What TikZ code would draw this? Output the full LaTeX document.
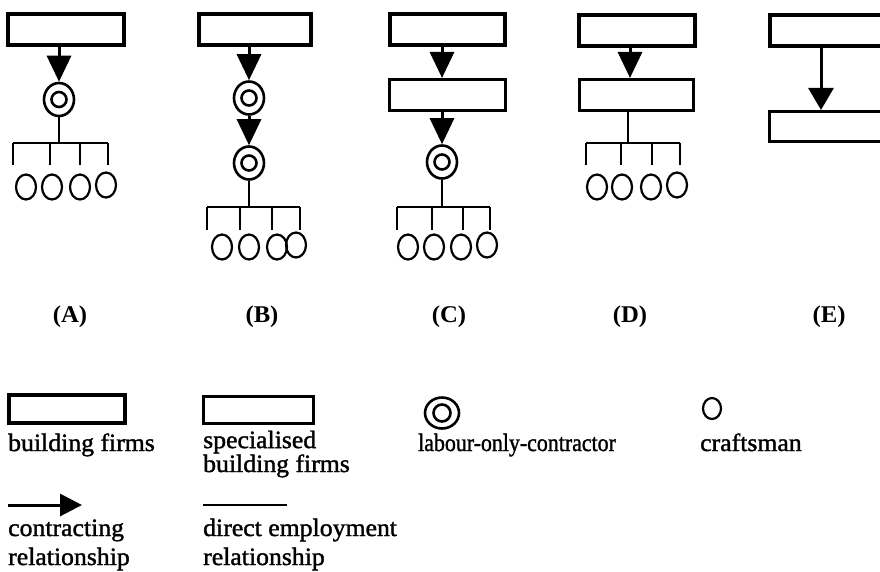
\documentclass[tikz,border=0pt]{standalone}
\usepackage{fontspec}
\setmainfont{Liberation Serif}[FakeStretch=1.03]
\newfontfamily\keyfont{Liberation Serif}[FakeStretch=1.03,FakeBold=1.4]
\usetikzlibrary{arrows.meta,shapes.geometric,calc}

\begin{document}
\begin{tikzpicture}[x=1pt,y=-1pt,
  firm/.style={draw, line width=4pt, inner sep=0pt, minimum height=31pt},
  special/.style={draw, line width=2.6pt, inner sep=0pt, minimum height=31.5pt},
  loc/.style={ellipse, draw, line width=2.6pt, inner sep=0pt,
    minimum width=30pt, minimum height=33pt,
    path picture={\draw[line width=2.6pt] (path picture bounding box.center) circle[radius=#1];}},
  loc/.default=7.5pt,
  crafts/.style={ellipse, draw, line width=2.2pt, inner sep=0pt,
    minimum width=20pt, minimum height=25pt},
  contract/.style={line width=3pt, -{Triangle[length=26pt,width=24pt]}},
  employ/.style={line width=2.2pt},
  caption/.style={font=\fontsize{24}{24}\selectfont\bfseries, inner sep=0pt},
  legendtext/.style={font=\keyfont\fontsize{25}{22}\selectfont, anchor=base west, inner sep=0pt},
]
\useasboundingbox (0,0) rectangle (880,571);
\clip (0,0) rectangle (880,571);

% ---------- (A) building firm -> labour-only contractor -> craftsmen
\node[firm, minimum width=116pt] (a1) at (66,29.5) {};
\node[loc] (a2) at (59,99.5) {};
\draw[contract] (a1.south -| a2) -- (a2.north);
\coordinate (a3) at (59,143);
\draw[employ] (a2.south) -- (a3);
\foreach \t [count=\i] in {13,50,80,108} {
  \coordinate (at\i) at (\t,143);
  \coordinate (ab\i) at (\t,165);
  \draw[employ] (at\i) -- (ab\i);
}
\draw[employ] (at1) -- (at4);
\foreach \c/\h [count=\i] in {26/187,52/187,80/187,106/185}
  \node[crafts] (ac\i) at (\c,\h) {};
\node[caption] (la) at (70,317) {(A)};

% ---------- (B) building firm -> two labour-only contractors
\node[firm, minimum width=112pt] (b1) at (255,29.5) {};
\node[loc] (b2) at (249,98) {};
\node[loc] (b3) at (249,163) {};
\draw[contract] (b1.south -| b2) -- (b2.north);
\draw[contract] (b2.south) -- (b3.north);
\coordinate (b4) at (249,207);
\draw[employ] (b3.south) -- (b4);
\foreach \t [count=\i] in {207,240,272,300} {
  \coordinate (bt\i) at (\t,207);
  \coordinate (bb\i) at (\t,230);
  \draw[employ] (bt\i) -- (bb\i);
}
\draw[employ] (bt1) -- (bt4);
\foreach \c/\h [count=\i] in {222/247,249/247,277/247,296/245}
  \node[crafts] (bc\i) at (\c,\h) {};
\node[caption] (lb) at (262,317) {(B)};

% ---------- (C) building firm -> specialised firm -> labour-only contractor
\node[firm, minimum width=115pt] (c1) at (447.5,29.5) {};
\node[special, minimum width=116.5pt] (c2) at (447.5,95) {};
\node[loc] (c3) at (442,162) {};
\draw[contract] (c1.south -| c3) -- (c2.north -| c3);
\draw[contract] (c2.south -| c3) -- (c3.north);
\coordinate (c4) at (442,207);
\draw[employ] (c3.south) -- (c4);
\foreach \t [count=\i] in {397,432,463,490} {
  \coordinate (ct\i) at (\t,207);
  \coordinate (cb\i) at (\t,230);
  \draw[employ] (ct\i) -- (cb\i);
}
\draw[employ] (ct1) -- (ct4);
\foreach \c/\h [count=\i] in {408/247,434/247,461/247,487/245}
  \node[crafts] (cc\i) at (\c,\h) {};
\node[caption] (lc) at (449,317) {(C)};

% ---------- (D) building firm -> specialised firm employing craftsmen
\node[firm, minimum width=116pt] (d1) at (637,30) {};
\node[special, minimum width=114.5pt] (d2) at (636.5,95) {};
\coordinate (dspine) at (630,0);
\draw[contract] (d1.south -| dspine) -- (d2.north -| dspine);
\coordinate (dline) at (628,0);
\coordinate (d4) at (628,143);
\draw[employ] (d2.south -| dline) -- (d4);
\foreach \t [count=\i] in {586,621,652,680} {
  \coordinate (dt\i) at (\t,143);
  \coordinate (db\i) at (\t,165);
  \draw[employ] (dt\i) -- (db\i);
}
\draw[employ] (dt1) -- (dt4);
\foreach \c/\h [count=\i] in {597/187,622/187,651/187,677/185}
  \node[crafts] (dc\i) at (\c,\h) {};
\node[caption] (ld) at (630,317) {(D)};

% ---------- (E) building firm -> specialised firm
\node[firm, minimum width=128pt] (e1) at (834,30) {};
\node[special, minimum width=128.5pt, minimum height=30.5pt] (e2) at (834,126.5) {};
\coordinate (espine) at (821,0);
\draw[line width=3pt, -{Triangle[length=22pt,width=25pt]}] (e1.south -| espine) -- (e2.north -| espine);
\node[caption] (le) at (829,317) {(E)};

% ---------- key
\node[firm, minimum width=116pt, minimum height=28pt] (kf) at (67,409) {};
\node[legendtext] (kft) at (8,451) {building firms};
\node[special, minimum width=110.5pt, minimum height=27.5pt] (ks) at (258.5,410) {};
\node[legendtext, align=left] (kst) at (203,472) {specialised\\building firms};
\node[loc=8.5pt, minimum width=34pt, minimum height=31pt] (kl) at (442,413) {};
\node[legendtext] (klt) at (418,451) {\scalebox{0.85}[1]{labour-only-contractor}};
\node[crafts, minimum width=18pt, minimum height=21pt] (kc) at (712,408.5) {};
\node[legendtext] (kct) at (700,451) {craftsman};

\coordinate (ka1) at (8,505);
\coordinate (ka2) at (82,505);
\draw[line width=3pt, -{Triangle[length=22pt,width=22pt]}] (ka1) -- (ka2);
\node[legendtext] (kat1) at (8,536) {contracting};
\node[legendtext] (kat2) at (8,565) {relationship};

\coordinate (ke1) at (203,505);
\coordinate (ke2) at (287,505);
\draw[line width=1.5pt] (ke1) -- (ke2);
\node[legendtext] (ket1) at (203,536) {direct employment};
\node[legendtext] (ket2) at (203,565) {relationship};
\end{tikzpicture}
\end{document}
